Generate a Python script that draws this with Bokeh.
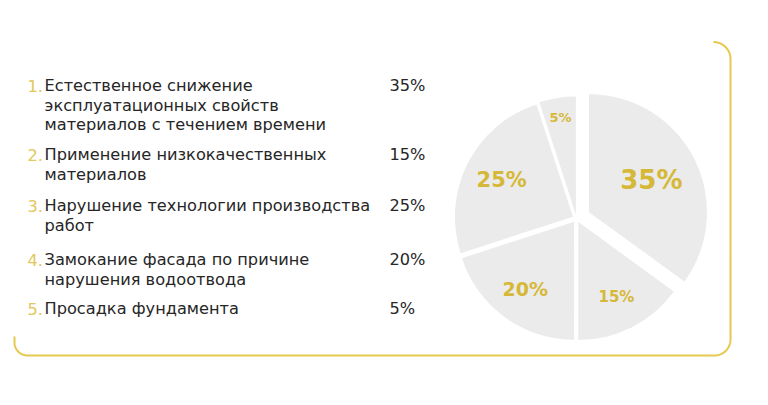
import numpy as np
from bokeh.plotting import figure
from bokeh.models import ColumnDataSource, Range1d
from bokeh.core.properties import value
from bokeh.embed import file_html
from bokeh.resources import INLINE

# ---------------- data ----------------
categories = [
    "Естественное снижение\nэксплуатационных свойств\nматериалов с течением времени",
    "Применение низкокачественных\nматериалов",
    "Нарушение технологии производства\nработ",
    "Замокание фасада по причине\nнарушения водоотвода",
    "Просадка фундамента",
]
numbers = ["1.", "2.", "3.", "4.", "5."]
shares = [35, 15, 25, 20, 5]
pie_order = [0, 1, 3, 2, 4]          # clockwise from 12 o'clock

# ---------------- style / layout ----------------
W, H = 768, 405
GOLD = "#d6b838"
GOLD_LIGHT = "#e2c75c"
BORDER = "#e6c84f"
TEXT = "#262626"
SLICE = "#ebebeb"
FONT = "DejaVu Sans"
FS = "16.2px"

item_y = [85, 154, 205, 259, 308]     # pixel centre of first line of each item
line_step = 19.5
num_x, text_x, pct_x = 27, 44, 389
cx, cy, R = 576, 218, 118             # pie centre in pixels
explode = [14, 4, 4, 4, 4]            # per pie slice (in pie order)
label_dist = [84, 88, 87, 84, 102]
label_size = [26, 15, 19, 21, 13]


def Y(py):
    return H - py


p = figure(width=W, height=H, x_range=Range1d(0, W), y_range=Range1d(0, H),
           output_backend="svg", toolbar_location=None, min_border=0,
           background_fill_color="white", border_fill_color="white")
p.axis.visible = False
p.grid.visible = False
p.outline_line_color = None

# ---------------- border ----------------
def arc(xc, yc, r, a0, a1, n=20):
    t = np.linspace(np.radians(a0), np.radians(a1), n)
    return list(xc + r * np.cos(t)), list(yc + r * np.sin(t))

bx, by = [], []
ax_, ay_ = arc(713, 58.5, 17, -90, 0); bx += ax_; by += ay_
bx += [730]; by += [339]
ax_, ay_ = arc(714, 339, 16, 0, 90); bx += ax_; by += ay_
bx += [27]; by += [355]
ax_, ay_ = arc(27, 342, 13, 90, 180); bx += ax_; by += ay_
bx += [14]; by += [336]
p.line([float(v) for v in bx], [Y(float(v)) for v in by],
       line_color=BORDER, line_width=2)

# ---------------- list ----------------
lx, ly, lt = [], [], []
for i, cat in enumerate(categories):
    for j, line in enumerate(cat.split("\n")):
        lx.append(text_x); ly.append(Y(item_y[i] + j * line_step)); lt.append(line)
p.text(x=lx, y=ly, text=lt, text_font=value(FONT), text_font_size=FS,
       text_color=TEXT, text_baseline="middle", text_align="left")
p.text(x=[num_x] * len(numbers), y=[Y(v) for v in item_y], text=numbers,
       text_font=value(FONT), text_font_size=FS, text_color=GOLD_LIGHT,
       text_baseline="middle", text_align="left")
p.text(x=[pct_x] * len(shares), y=[Y(v) for v in item_y],
       text=[f"{s}%" for s in shares], text_font=value(FONT),
       text_font_size=FS, text_color=TEXT, text_baseline="middle",
       text_align="left")

# ---------------- pie ----------------
vals = [shares[k] for k in pie_order]
total = float(sum(vals))
fr = np.cumsum([0] + vals) / total
wx, wy, sa, ea = [], [], [], []
tx, ty, tt, ts = [], [], [], []
for i, v in enumerate(vals):
    mid = (fr[i] + fr[i + 1]) / 2 * 2 * np.pi     # clockwise from north
    wx.append(cx + explode[i] * np.sin(mid))
    wy.append(Y(cy) + explode[i] * np.cos(mid))
    sa.append(np.pi / 2 - fr[i + 1] * 2 * np.pi)
    ea.append(np.pi / 2 - fr[i] * 2 * np.pi)
    tx.append(cx + label_dist[i] * np.sin(mid))
    ty.append(Y(cy) + label_dist[i] * np.cos(mid))
    tt.append(f"{v}%")
    ts.append(f"{label_size[i]}px")

src = ColumnDataSource(dict(x=wx, y=wy, sa=sa, ea=ea))
p.wedge(x="x", y="y", radius=R, start_angle="sa", end_angle="ea",
        direction="anticlock", fill_color=SLICE, line_color=None, source=src)

lsrc = ColumnDataSource(dict(x=tx, y=ty, t=tt, s=ts))
p.text(x="x", y="y", text="t", text_font_size="s", source=lsrc,
       text_font=value(FONT), text_font_style="bold", text_color=GOLD,
       text_align="center", text_baseline="middle")

open("out.html", "w").write(file_html(p, INLINE))
